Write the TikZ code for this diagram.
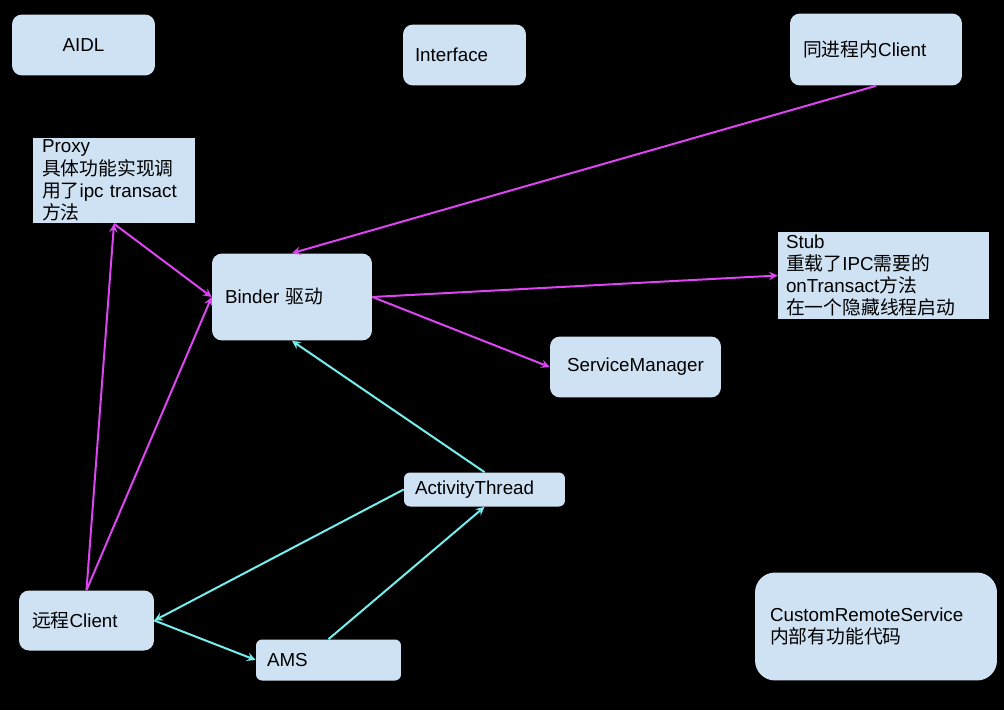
\documentclass[tikz,border=0pt]{standalone}
\usepackage{fontspec}
\setmainfont{Liberation Sans}
\newfontfamily\cjk{Noto Sans CJK SC}
\usepackage{tikz}
\usepackage{color}
\definecolor{boxblue}{RGB}{207,226,243}
\definecolor{ipcpink}{RGB}{221,68,242}
\definecolor{appcyan}{RGB}{118,238,238}
\newcommand{\zh}[1]{{\cjk #1}}

\tikzset{
  box/.style={fill=boxblue, rounded corners=2mm, inner ysep=0.5mm, align=left,
    font=\fontsize{10.7}{12.6}\selectfont},
  flatbox/.style={box, rounded corners=0mm},
  ipc/.style={ipcpink, line width=0.04cm, ->},
  app/.style={appcyan, line width=0.04cm, ->}
}

\begin{document}
\begin{tikzpicture}[x=0.02cm,y=-0.02cm,>=stealth]

\fill[black] (0,0) rectangle (1004,710);

\node[box, align=center, minimum width=2.86cm, minimum height=1.22cm] (aidl) at (83.5,45) {AIDL};
\node[box, minimum height=1.22cm, inner xsep=0.24cm, text width=1.98cm] (iface) at (464.5,55) {Interface};
\node[box, minimum height=1.44cm, inner xsep=0.26cm, text width=2.92cm] (samecl) at (876,49.5) {\zh{同进程内}Client};

\node[flatbox, minimum height=1.70cm, inner xsep=0.18cm, text width=2.88cm] (proxy) at (114,180.5)
  {Proxy\\\zh{具体功能实现调}\\\zh{用了}ipc transact\\\zh{方法}};
\node[box, minimum height=1.74cm, inner xsep=0.26cm, text width=2.68cm] (binder) at (292,297) {Binder \zh{驱动}};
\node[flatbox, minimum height=1.72cm, inner xsep=0.16cm, text width=3.90cm] (stub) at (883.5,275.5)
  {Stub\\\zh{重载了}IPC\zh{需要的}\\onTransact\zh{方法}\\\zh{在一个隐藏线程启动}};
\node[box, minimum height=1.22cm, inner xsep=0.34cm, text width=2.74cm] (svcmgr) at (635.5,367) {ServiceManager};

\node[box, rounded corners=1.2mm, minimum height=0.68cm, inner xsep=0.22cm, text width=2.78cm] (actthread) at (484.5,489.5) {ActivityThread};
\node[box, minimum height=1.20cm, inner xsep=0.26cm, text width=2.18cm] (remote) at (86.5,620.5) {\zh{远程}Client};
\node[box, rounded corners=1.2mm, minimum height=0.82cm, inner xsep=0.22cm, text width=2.46cm] (ams) at (328.5,660) {AMS};
\node[box, rounded corners=4mm, minimum height=2.16cm, inner xsep=0.30cm, text width=4.24cm] (custom) at (876,626.5)
  {CustomRemoteService\\\zh{内部有功能代码}};

\draw[ipc] (samecl.south) -- (binder.north);
\draw[ipc] (binder.east) -- (stub.west);
\draw[ipc] (binder.east) -- (svcmgr.west);
\draw[ipc] (remote.north) -- (proxy.south);
\draw[ipc] (proxy.south) -- (binder.west);
\draw[ipc] (remote.north) -- (binder.west);

\draw[app] (actthread.north) -- (binder.south);
\draw[app] (actthread.west) -- (remote.east);
\draw[app] (remote.east) -- (ams.west);
\draw[app] (ams.north) -- (actthread.south);

\end{tikzpicture}
\end{document}
